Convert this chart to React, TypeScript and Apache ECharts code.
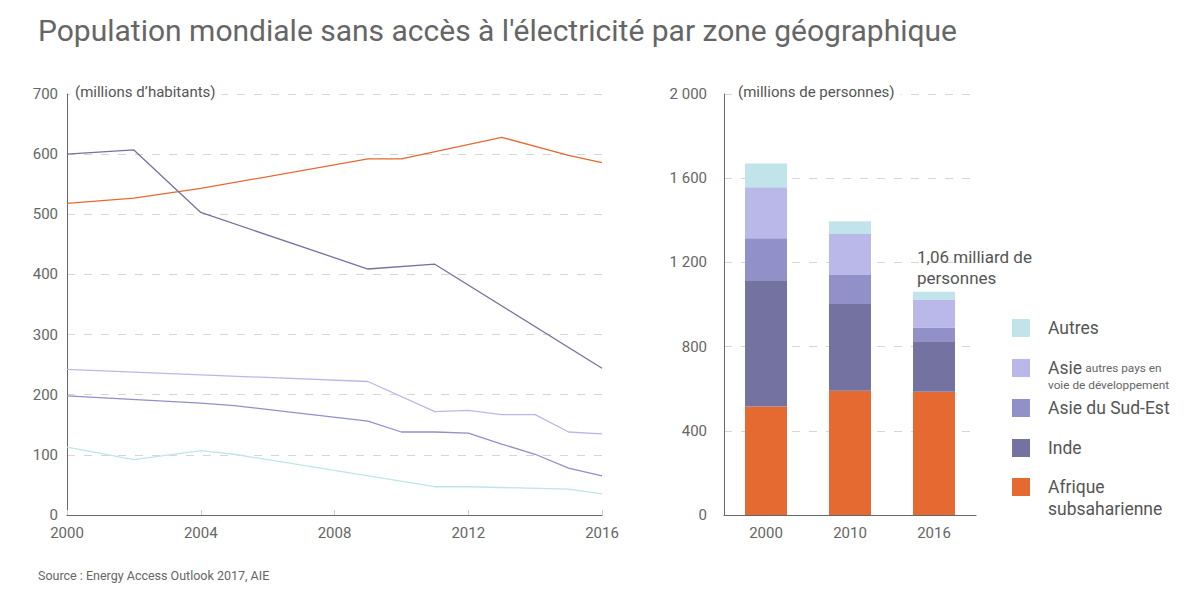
import React, { useEffect, useRef } from "react";
import * as echarts from "echarts";

const seriesNames = ["Afrique subsaharienne", "Inde", "Asie du Sud-Est", "Asie autres pays en voie de développement", "Autres"];
const seriesColors = ["#e56a32", "#7472a0", "#9190c8", "#b9b8e8", "#c0e4ea"];

// line chart data: [year, millions]
const afriqueLine = [[2000, 518], [2002, 527], [2004, 543], [2009, 592], [2010, 592], [2013, 628], [2015, 598], [2016, 586]];
const indeLine = [[2000, 600], [2002, 607], [2004, 503], [2009, 409], [2011, 417], [2016, 244]];
const sudEstLine = [[2000, 198], [2004, 186], [2005, 182], [2009, 156], [2010, 138], [2011, 138], [2012, 136], [2013, 118], [2014, 101], [2015, 78], [2016, 65]];
const asieAutresLine = [[2000, 242], [2004, 233], [2009, 222], [2011, 172], [2012, 174], [2013, 167], [2014, 167], [2015, 138], [2016, 135]];
const autresLine = [[2000, 113], [2002, 92], [2004, 107], [2005, 101], [2011, 47], [2012, 47], [2015, 43], [2016, 35]];

// bar chart data
const barCategories = ["2000", "2010", "2016"];
const afriqueBar = [515, 590, 585];
const indeBar = [600, 412, 240];
const sudEstBar = [200, 138, 66];
const asieAutresBar = [242, 195, 133];
const autresBar = [113, 60, 36];

const leftYTicks = { min: 0, max: 700, interval: 100 };
const rightYTicks = { min: 0, max: 2000, interval: 400 };
const leftXTicks = { min: 2000, max: 2016, interval: 4 };

const FONT = "Roboto, 'Noto Sans', sans-serif";
const GREY = "#666";

export default function App() {
  const ref = useRef<HTMLDivElement>(null);
  useEffect(() => {
    if (!ref.current) return;
    const chart = echarts.init(ref.current, null, { renderer: "svg" });
    const lines = [afriqueLine, indeLine, sudEstLine, asieAutresLine, autresLine];
    const bars = [afriqueBar, indeBar, sudEstBar, asieAutresBar, autresBar];

    const splitLine = { show: true, lineStyle: { color: "#d6d6d6", type: [8, 9], width: 1 } };
    const axisLabel = { color: GREY, fontSize: 15, fontFamily: FONT };

    const legendItems = [
      { idx: 4, y: 328 },
      { idx: 3, y: 368 },
      { idx: 2, y: 408 },
      { idx: 1, y: 448 },
      { idx: 0, y: 487 },
    ];
    const graphic: any[] = [
      {
        type: "text", left: 38, top: 15, z: 10,
        style: { text: "Population mondiale sans accès à l'électricité par zone géographique", fill: GREY, font: `30px ${FONT}` },
      },
      {
        type: "text", left: 38, top: 569, z: 10,
        style: { text: "Source : Energy Access Outlook 2017, AIE", fill: GREY, font: `12.5px ${FONT}` },
      },
      {
        type: "text", x: 70, y: 84, z: 10,
        style: { text: "(millions d’habitants)", fill: "#555", font: `15px ${FONT}`, backgroundColor: "#fff", padding: [0, 6, 0, 5] },
      },
      {
        type: "text", x: 733, y: 84, z: 10,
        style: { text: "(millions de personnes)", fill: "#555", font: `15px ${FONT}`, backgroundColor: "#fff", padding: [0, 6, 0, 5] },
      },
      {
        type: "text", x: 917, y: 246, z: 10,
        style: { text: "1,06 milliard de\npersonnes", fill: "#555", font: `17px ${FONT}`, lineHeight: 21 },
      },
    ];
    legendItems.forEach((it) => {
      graphic.push({
        type: "rect", z: 10,
        shape: { x: 1012, y: it.y - 9, width: 18, height: 18 },
        style: { fill: seriesColors[it.idx] },
      });
    });
    graphic.push(
      { type: "text", x: 1048, y: 319, z: 10, style: { text: "Autres", fill: "#555", font: `17.5px ${FONT}` } },
      {
        type: "text", x: 1048, y: 358, z: 10,
        style: {
          text: "{a|Asie} {b|autres pays en}\n{b|voie de développement}",
          fill: "#555",
          rich: {
            a: { fontSize: 17.5, fontFamily: FONT, fill: "#555", lineHeight: 19 },
            b: { fontSize: 11.8, fontFamily: FONT, fill: "#666", lineHeight: 16 },
          },
        },
      },
      { type: "text", x: 1048, y: 399, z: 10, style: { text: "Asie du Sud-Est", fill: "#555", font: `17.5px ${FONT}` } },
      { type: "text", x: 1048, y: 439, z: 10, style: { text: "Inde", fill: "#555", font: `17.5px ${FONT}` } },
      { type: "text", x: 1048, y: 476, z: 10, style: { text: "Afrique\nsubsaharienne", fill: "#555", font: `17.5px ${FONT}`, lineHeight: 22 } }
    );

    chart.setOption({
      animation: false,
      backgroundColor: "#fff",
      textStyle: { fontFamily: FONT },
      grid: [
        { left: 67, top: 94, width: 535, height: 421 },
        { left: 724, top: 94, width: 252, height: 421 },
      ],
      xAxis: [
        {
          type: "value", gridIndex: 0, ...leftXTicks,
          axisLine: { show: true, lineStyle: { color: GREY } },
          axisTick: { show: true, inside: true, length: 5, lineStyle: { color: "#ccc" } },
          axisLabel: { ...axisLabel, margin: 10, formatter: (v: number) => String(v) },
          splitLine: { show: false },
        },
        {
          type: "category", gridIndex: 1, data: barCategories,
          axisLine: { show: true, lineStyle: { color: GREY } },
          axisTick: { show: false },
          axisLabel: { ...axisLabel, margin: 10 },
        },
      ],
      yAxis: [
        {
          type: "value", gridIndex: 0, ...leftYTicks,
          axisLine: { show: true, lineStyle: { color: GREY } },
          axisTick: { show: false },
          axisLabel: { ...axisLabel, margin: 9 },
          splitLine,
        },
        {
          type: "value", gridIndex: 1, ...rightYTicks,
          axisLine: { show: true, lineStyle: { color: GREY } },
          axisTick: { show: false },
          axisLabel: {
            ...axisLabel, margin: 17,
            formatter: (v: number) => String(v).replace(/\B(?=(\d{3})+(?!\d))/g, " "),
          },
          splitLine,
        },
      ],
      series: [
        ...lines.map((d, i) => ({
          type: "line", name: seriesNames[i], xAxisIndex: 0, yAxisIndex: 0,
          data: d, showSymbol: false, symbol: "none",
          lineStyle: { color: seriesColors[i], width: 1.3 },
          itemStyle: { color: seriesColors[i] },
        })),
        ...bars.map((d, i) => ({
          type: "bar", name: seriesNames[i], xAxisIndex: 1, yAxisIndex: 1,
          stack: "total", data: d, barWidth: 42,
          itemStyle: { color: seriesColors[i] },
        })),
      ],
      graphic,
    });
    return () => chart.dispose();
  }, []);
  return <div ref={ref} style={{ position: "absolute", left: 0, top: 0, width: 1200, height: 600 }} />;
}
